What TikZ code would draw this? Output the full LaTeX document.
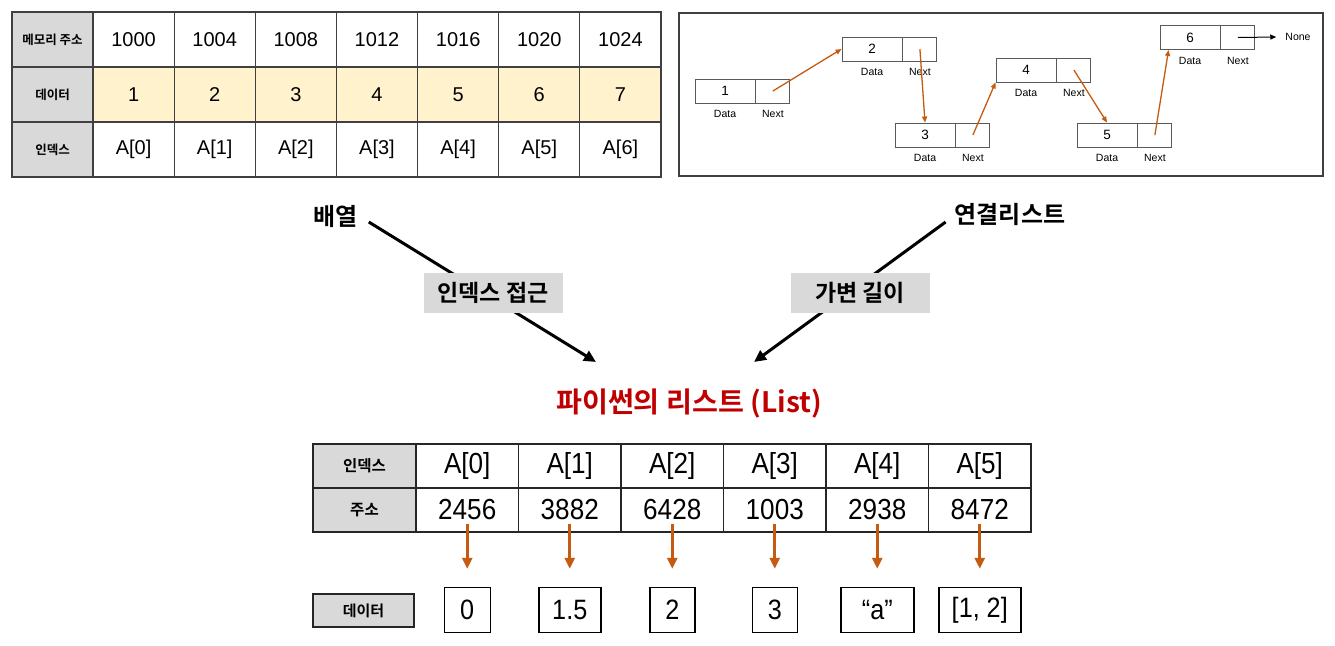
\documentclass[tikz,border=0pt]{standalone}
\usepackage{fontspec}
\setmainfont{Liberation Sans}
\newfontfamily\kr[BoldFont={Noto Sans CJK KR Bold}]{Noto Sans CJK KR}
\newfontfamily\narrowfont[FakeStretch=0.9]{Liberation Sans}
\usetikzlibrary{arrows.meta,positioning}
\definecolor{hdrgray}{RGB}{217,217,217}
\definecolor{cellyellow}{RGB}{255,242,204}
\definecolor{linkorange}{RGB}{197,90,17}
\definecolor{titlered}{RGB}{192,0,0}
\definecolor{gridgray}{RGB}{64,64,64}

\begin{document}
\begin{tikzpicture}[x=1pt,y=-1pt,
    memcell/.style={draw=gridgray, line width=1.2pt, minimum width=81.14pt, minimum height=55pt, inner sep=0pt, font=\fontsize{20}{24}\selectfont},
    memhead/.style={memcell, minimum width=81pt, fill=hdrgray, font=\kr\bfseries\fontsize{12.5}{15}\selectfont},
    lcell/.style={draw=black!65, line width=0.9pt, minimum height=24pt, inner sep=0pt, font=\fontsize{13.5}{16}\selectfont},
    lbl/.style={inner sep=0pt, font=\fontsize{10.5}{12}\selectfont},
    linkarrow/.style={draw=linkorange, line width=1.3pt, -{Triangle[length=6pt,width=5pt]}},
    krbig/.style={inner sep=0pt, font=\kr\bfseries\fontsize{24}{28}\selectfont},
    tagbox/.style={fill=hdrgray, minimum width=139pt, minimum height=40pt, inner sep=0pt, font=\kr\bfseries\fontsize{23}{27}\selectfont},
    bigarrow/.style={draw=black, line width=3pt, -{Triangle[length=12pt,width=11pt]}},
    phead/.style={draw=black!85, line width=1.8pt, fill=hdrgray, minimum width=103pt, minimum height=44pt, inner sep=0pt, font=\kr\bfseries\fontsize{15.5}{18}\selectfont},
    pcell/.style={draw=black!85, line width=1.8pt, minimum width=102.5pt, minimum height=44pt, inner sep=0pt, font=\narrowfont\fontsize{29}{33}\selectfont},
    pval/.style={draw=black, line width=1.5pt, minimum height=45pt, inner sep=0pt, font=\narrowfont\fontsize{28}{32}\selectfont},
    valarrow/.style={draw=linkorange, line width=2.6pt, -{Triangle[length=11pt,width=10pt]}}]
\useasboundingbox (0,0) rectangle (1335,645);

\node[memhead] (mh1) at (52.5,39.5) {메모리 주소};
\node[memhead] (mh2) at (52.5,94.5) {데이터};
\node[memhead] (mh3) at (52.5,149.5) {인덱스};
\foreach \v [count=\i] in {1000,1004,1008,1012,1016,1020,1024}
  \node[memcell] (maddr\i) at ({93+81.14*(\i-0.5)},39.5) {\v};
\foreach \i in {1,...,7}
  \node[memcell, fill=cellyellow] (mval\i) at ({93+81.14*(\i-0.5)},94.5) {\i};
\foreach \k [count=\i] in {0,...,6}
  \node[memcell] (midx\i) at ({93+81.14*(\i-0.5)},149.5) {A[\k]};

\draw[gridgray, line width=1.2pt] (679,13) rectangle (1323,176);
\foreach \n/\x/\y in {1/725/91, 2/872/49, 3/925/135, 4/1026/70, 5/1107/135, 6/1190/37.5} {
  \node[lcell, minimum width=60pt] (d\n) at (\x,\y) {\n};
  \node[lcell, minimum width=34pt, right=0pt of d\n] (n\n) {};
  \node[lbl, below=7pt of d\n] (dl\n) {Data};
  \node[lbl, below=7pt of n\n] (nl\n) {Next};
}
\draw[linkarrow] (n1.center) -- (d2.west);
\draw[linkarrow] (n2.center) -- (d3.north);
\draw[linkarrow] (n3.center) -- (d4.south west);
\draw[linkarrow] (n4.center) -- (d5.north);
\draw[linkarrow] (n5.center) -- ([xshift=9pt]d6.south west);
\node[lbl] (none) at (1298,37) {None};
\draw[line width=1pt, -{Triangle[length=6pt,width=5pt]}] (n6.center) -- ([xshift=-9pt]none.west);

\node[krbig] (arr) at (335.5,216) {배열};
\node[krbig] (llist) at (1010,215) {연결리스트};
\node[inner sep=0pt, text=titlered, font=\kr\bfseries\fontsize{28.2}{33}\selectfont] (pylist) at (689,404) {파이썬의 리스트 (List)};
\coordinate (ltip) at (596,362);
\coordinate (rtip) at (754,362);
\draw[bigarrow] ([xshift=11pt,yshift=-6pt]arr.east) -- (ltip);
\draw[bigarrow] ([xshift=-9pt,yshift=-7pt]llist.west) -- (rtip);
\node[tagbox] (access) at (493,293) {인덱스 접근};
\node[tagbox] (varlen) at (860,293) {가변 길이};

\node[phead] (ph1) at (364.5,466) {인덱스};
\node[phead] (ph2) at (364.5,510) {주소};
\foreach \a [count=\k from 0] in {2456,3882,6428,1003,2938,8472} {
  \node[pcell] (pidx\k) at ({416+102.5*(\k+0.5)},466) {A[\k]};
  \node[pcell] (paddr\k) at ({416+102.5*(\k+0.5)},510) {\a};
}
\node[draw=black!85, line width=2pt, fill=hdrgray, minimum width=101pt, minimum height=33pt, inner sep=0pt, font=\kr\bfseries\fontsize{15}{18}\selectfont] (pdata) at (363.5,610.5) {데이터};
\foreach \v/\w [count=\k from 0] in {0/46, 1.5/62, 2/45, 3/45, {“a”}/73, {[1, 2]}/82}
  \node[pval, minimum width=\w pt] (pval\k) at ({416+102.5*(\k+0.5)},610) {\v};
\foreach \k in {0,...,5}
  \draw[valarrow] ([yshift=9pt]paddr\k.south) -- ([yshift=18pt]pval\k.north);
\end{tikzpicture}
\end{document}
